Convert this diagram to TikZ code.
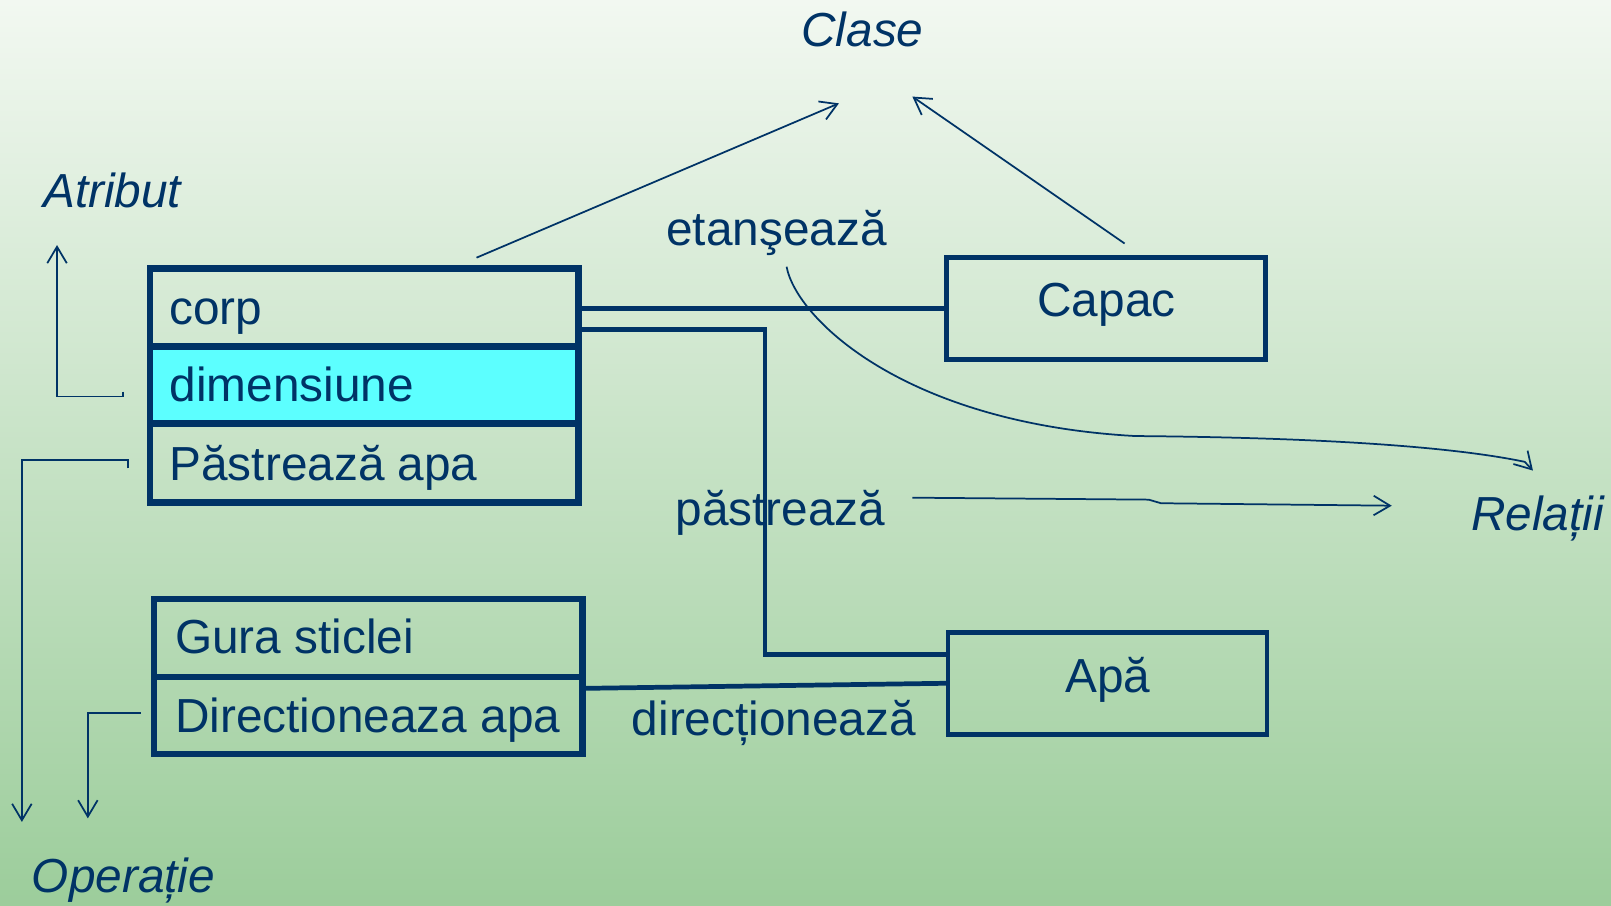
\documentclass[tikz,border=0pt]{standalone}
\usepackage{fontspec}
\setmainfont{Liberation Sans}
\usetikzlibrary{arrows.meta,calc}
\definecolor{navy}{HTML}{003366}
\definecolor{bgtop}{HTML}{F2F8F1}
\definecolor{bgbot}{HTML}{9CCD9B}
\definecolor{cyanfill}{HTML}{5CFFFF}
\begin{document}
\begin{tikzpicture}[x=1pt,y=-1pt,
  every node/.style={inner sep=0pt, outer sep=0pt, text=navy, font=\fontsize{46.5}{56}\selectfont},
  row/.style={draw=navy, line width=6.5pt, minimum width=417pt, rectangle},
  cbox/.style={draw=navy, line width=4.6pt, rectangle, minimum width=310.5pt, minimum height=99pt},
  conn/.style={draw=navy, line width=4.6pt},
  thinarr/.style={draw=navy, line width=1.7pt, -{Straight Barb[length=16pt,width=19pt]}},
  lbl/.style={anchor=base west},
  ital/.style={anchor=base west, font=\fontsize{46.5}{56}\selectfont\itshape},
]
\useasboundingbox (0,0) rectangle (1568,881);
\shade[top color=bgtop, bottom color=bgbot] (0,0) rectangle (1568,881);

% class Sticla (body)
\node[row, minimum height=76pt] (corp) at (354.5,299) {};
\node[row, minimum height=75pt, fill=cyanfill] (dim) at (354.5,374.5) {};
\node[row, minimum height=77pt] (pastr) at (354.5,450.5) {};
\node[lbl] (tcorp) at (165,316) {corp};
\node[lbl] (tdim) at (165,391) {dimensiune};
\node[lbl] (tpastr) at (165,468) {Păstrează apa};

% class Gura sticlei
\node[row, minimum height=76pt] (gura) at (358.5,621) {};
\node[row, minimum height=75pt] (dir) at (358.5,696.5) {};
\node[lbl] (tgura) at (170.5,636.5) {Gura sticlei};
\node[lbl] (tdir) at (170.5,713) {Directioneaza apa};

% Capac, Apa
\node[cbox] (capac) at (1076.2,300.2) {};
\node[anchor=base] (tcapac) at (1077,307.6) {Capac};
\node[cbox] (apa) at (1077.9,665.3) {};
\node[anchor=base] (tapa) at (1078.4,674) {Apă};

% relation labels
\node[lbl] (etan) at (648.5,238.5) {etanşează};
\node[lbl] (pastreaza) at (657.5,511) {păstrează};
\node[lbl] (directioneaza) at (615,716) {direcționează};

% concept labels
\node[ital] (clase) at (780,45) {Clase};
\node[ital] (atribut) at (42,202) {Atribut};
\node[ital] (relatii) at (1432,516) {Relații};
\node[ital] (operatie) at (31,869) {Operație};

% connectors
\draw[conn] (capac.west) -- (capac.west -| corp.east);
\draw[conn] (corp.east |- 0,320.5) -| (744.6,637) -- (apa.west |- 0,637);
\draw[conn] (dir.east |- 0,670) -- (apa.west |- 0,665);

% thin arrows
\coordinate (c1tail) at (463.8,250.8);
\coordinate (c1tip) at (816.5,100.6);
\coordinate (c2tail) at (1094.6,237);
\coordinate (c2tip) at (888,94);
\draw[thinarr] (c1tail) -- (c1tip);
\draw[thinarr] (c2tail) -- (c2tip);

\coordinate (etail) at (765.6,259.6);
\coordinate (etip) at (1492,458);
\draw[thinarr] (etail) .. controls (775,310) and (880,412) .. (1105,424.4)
  .. controls (1300,426) and (1420,436) .. (1484,449.5) -- (etip);

\coordinate (ptail) at (888,484.4);
\coordinate (ptip) at (1354.6,492.2);
\draw[thinarr] (ptail) -- (1118,486.3) -- (1130,489.8) -- (ptip);

\coordinate (atail) at (120,381.2);
\coordinate (atip) at (55.5,238.5);
\draw[thinarr] (atail) -- (120,386) -- (55.5,386) -- (atip);

\coordinate (o1tail) at (124.8,455.8);
\coordinate (o1tip) at (21.3,800);
\draw[thinarr] (o1tail) -- (124.8,447.7) -- (21.3,447.7) -- (o1tip);

\coordinate (o2tail) at (137,693.7);
\coordinate (o2tip) at (85.5,796.5);
\draw[thinarr] (o2tail) -- (85.5,693.7) -- (o2tip);
\end{tikzpicture}
\end{document}
